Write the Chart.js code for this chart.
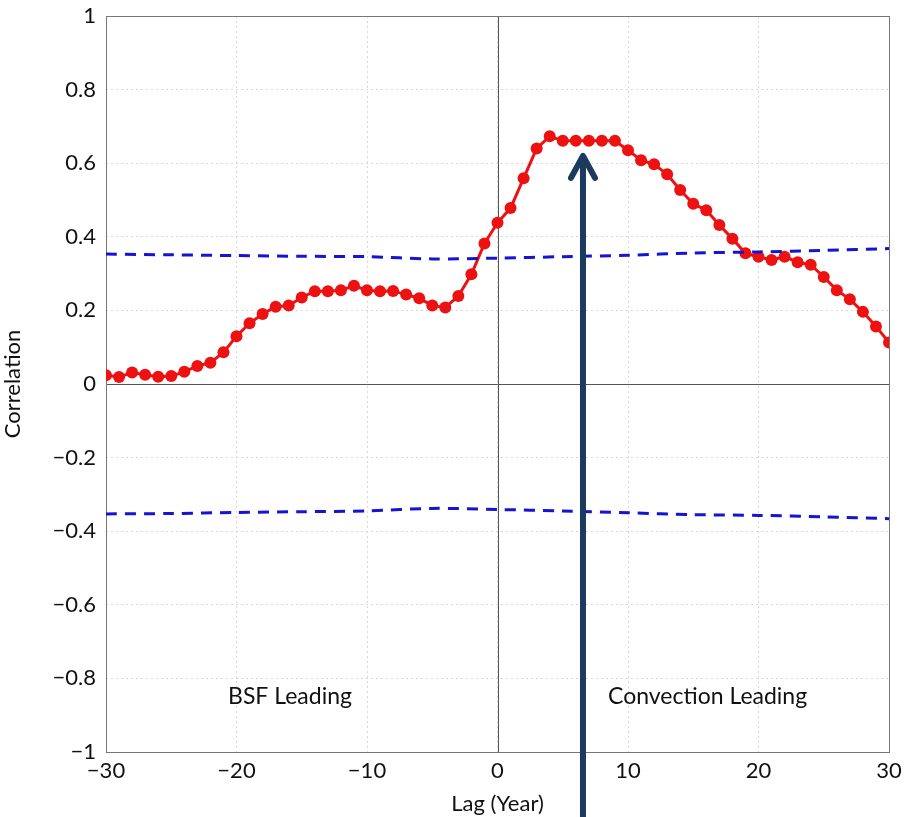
<!DOCTYPE html>
<html>
<head>
<meta charset="utf-8">
<script src="https://cdn.jsdelivr.net/npm/chart.js@4/dist/chart.umd.min.js"></script>
<style>
  html, body { margin: 0; padding: 0; background: #fff; }
  #wrap { width: 904px; height: 817px; }
</style>
</head>
<body>
<div id="wrap"><canvas id="chart"></canvas></div>
<script>
// lag in years, one point per year
var lags = [];
for (var i = -30; i <= 30; i++) lags.push(i);

// lagged correlation (red)
var corr = [0.024, 0.019, 0.031, 0.025, 0.020, 0.022, 0.033, 0.049, 0.058, 0.086,
            0.130, 0.165, 0.190, 0.210, 0.213, 0.235, 0.252, 0.252, 0.255, 0.267,
            0.255, 0.252, 0.253, 0.243, 0.233, 0.213, 0.208, 0.239, 0.298, 0.382,
            0.438, 0.478, 0.559, 0.640, 0.673, 0.661, 0.661, 0.661, 0.661, 0.661,
            0.635, 0.608, 0.597, 0.570, 0.527, 0.490, 0.472, 0.432, 0.395, 0.355,
            0.346, 0.337, 0.346, 0.331, 0.324, 0.291, 0.255, 0.230, 0.196, 0.156,
            0.113];

// significance levels (blue dashed)
var sigLags  = [-30, -25, -20, -15, -10, -5, 0, 5, 10, 15, 20, 25, 30];
var sigUpper = [0.353, 0.351, 0.349, 0.347, 0.346, 0.340, 0.342, 0.346, 0.350, 0.356, 0.359, 0.363, 0.368];
var sigLower = [-0.353, -0.352, -0.349, -0.347, -0.345, -0.338, -0.341, -0.345, -0.350, -0.355, -0.357, -0.361, -0.366];

var xTicks = [-30, -20, -10, 0, 10, 20, 30];
var yTickLabels = ['\u22121', '\u22120.8', '\u22120.6', '\u22120.4', '\u22120.2', '0', '0.2', '0.4', '0.6', '0.8', '1'];

var annotations = [
  { text: 'BSF Leading', x: -15.9, y: -0.85 },
  { text: 'Convection Leading', x: 16.1, y: -0.85 }
];
var arrowLag = 6.55, arrowTip = 0.62;

function pts(xs, ys) {
  return xs.map(function (x, i) { return { x: x, y: ys[i] }; });
}

var FONT = 'Lato, "Open Sans", sans-serif';

var extras = {
  id: 'extras',
  beforeDatasetsDraw: function (chart) {
    var c = chart.ctx, a = chart.chartArea;
    var xs = chart.scales.x, ys = chart.scales.y;
    c.save();
    c.strokeStyle = '#555';
    c.lineWidth = 1;
    c.beginPath();
    c.moveTo(a.left, Math.round(ys.getPixelForValue(0)) + 0.5);
    c.lineTo(a.right, Math.round(ys.getPixelForValue(0)) + 0.5);
    c.moveTo(Math.round(xs.getPixelForValue(0)) + 0.5, a.top);
    c.lineTo(Math.round(xs.getPixelForValue(0)) + 0.5, a.bottom);
    c.stroke();
    c.strokeStyle = '#777';
    c.strokeRect(Math.round(a.left) + 0.5, Math.round(a.top) + 0.5, Math.round(a.right - a.left), Math.round(a.bottom - a.top));
    c.restore();
  },
  afterDraw: function (chart) {
    var c = chart.ctx;
    var xs = chart.scales.x, ys = chart.scales.y;
    c.save();
    c.fillStyle = '#111';
    c.font = '23px ' + FONT;
    c.textAlign = 'center';
    c.textBaseline = 'middle';
    annotations.forEach(function (t) {
      c.fillText(t.text, xs.getPixelForValue(t.x), ys.getPixelForValue(t.y));
    });
    // arrow
    var ax = xs.getPixelForValue(arrowLag);
    var ay = ys.getPixelForValue(arrowTip);
    c.strokeStyle = '#1b3a5e';
    c.lineWidth = 6;
    c.lineCap = 'round';
    c.lineJoin = 'round';
    c.beginPath();
    c.moveTo(ax, chart.height + 5);
    c.lineTo(ax, ay + 2);
    c.stroke();
    c.beginPath();
    c.moveTo(ax - 12, ay + 22);
    c.lineTo(ax, ay);
    c.lineTo(ax + 12, ay + 22);
    c.stroke();
    c.restore();
  }
};

new Chart(document.getElementById('chart'), {
  type: 'line',
  data: {
    datasets: [
      {
        data: pts(sigLags, sigUpper),
        borderColor: '#1414d2',
        borderWidth: 3,
        borderDash: [11, 8],
        pointRadius: 0,
        tension: 0.3
      },
      {
        data: pts(sigLags, sigLower),
        borderColor: '#1414d2',
        borderWidth: 3,
        borderDash: [11, 8],
        pointRadius: 0,
        tension: 0.3
      },
      {
        data: pts(lags, corr),
        borderColor: '#ee1111',
        backgroundColor: '#ee1111',
        borderWidth: 3,
        pointRadius: 6,
        pointBorderWidth: 0,
        tension: 0
      }
    ]
  },
  options: {
    responsive: true,
    maintainAspectRatio: false,
    animation: false,
    layout: { padding: { left: 0, right: 15, top: 16, bottom: 0 } },
    plugins: { legend: { display: false }, tooltip: { enabled: false } },
    scales: {
      x: {
        type: 'linear',
        min: -30, max: 30,
        afterBuildTicks: function (s) { s.ticks = xTicks.map(function (v) { return { value: v }; }); },
        afterFit: function (s) { s.height = 65; s.paddingLeft = 0; s.paddingRight = 0; },
        grid: { color: '#d8d8d8', drawTicks: false },
        border: { display: false, dash: [2, 3] },
        ticks: {
          color: '#111',
          padding: 6,
          font: { family: FONT, size: 22 },
          maxRotation: 0,
          callback: function (v) { return v < 0 ? '\u2212' + Math.abs(v) : String(v); }
        },
        title: { display: true, text: 'Lag (Year)', color: '#111', padding: { top: 0, bottom: 0 }, font: { family: FONT, size: 22 } }
      },
      y: {
        min: -1, max: 1,
        afterBuildTicks: function (s) {
          s.ticks = yTickLabels.map(function (l, i) { return { value: -1 + i * 0.2 }; });
        },
        afterFit: function (s) { s.width = 106; s.paddingTop = 0; s.paddingBottom = 0; },
        grid: { color: '#d8d8d8', drawTicks: false },
        border: { display: false, dash: [2, 3] },
        ticks: {
          color: '#111',
          padding: 10,
          font: { family: FONT, size: 22 },
          callback: function (v, i) { return yTickLabels[i]; }
        },
        title: { display: true, text: 'Correlation', color: '#111', padding: { top: 0, bottom: 2 }, font: { family: FONT, size: 22 } }
      }
    }
  },
  plugins: [extras]
});
</script>
</body>
</html>
